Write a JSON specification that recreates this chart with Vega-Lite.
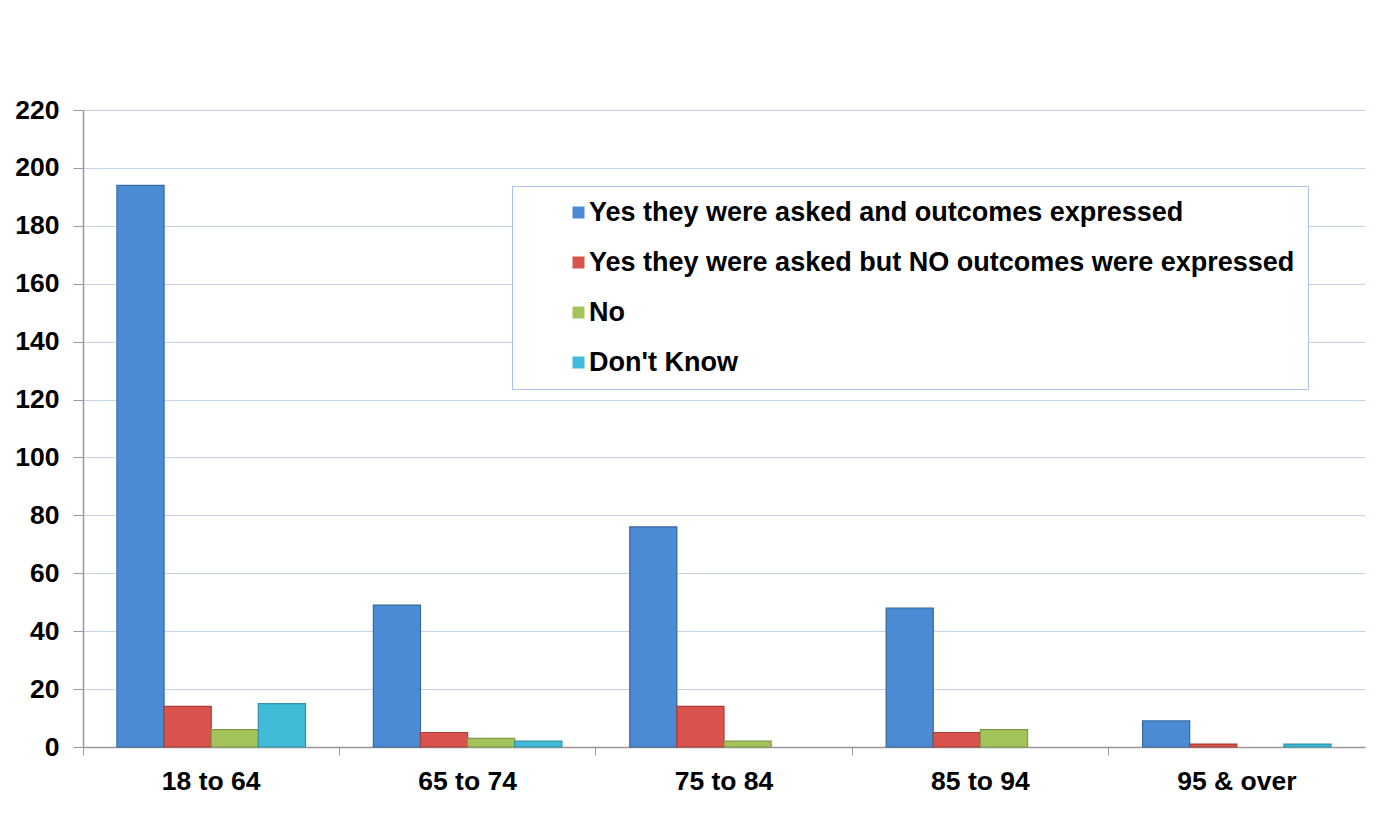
{
  "$schema": "https://vega.github.io/schema/vega-lite/v6.json",
  "width": 1282,
  "height": 637,
  "autosize": {"type": "none"},
  "padding": {"left": 83, "top": 110, "right": 11, "bottom": 86},
  "background": "white",
  "data": {
    "values": [
      {"age": "18 to 64", "series": "Yes they were asked and outcomes expressed", "value": 194},
      {"age": "18 to 64", "series": "Yes they were asked but NO outcomes were expressed", "value": 14},
      {"age": "18 to 64", "series": "No", "value": 6},
      {"age": "18 to 64", "series": "Don't Know", "value": 15},
      {"age": "65 to 74", "series": "Yes they were asked and outcomes expressed", "value": 49},
      {"age": "65 to 74", "series": "Yes they were asked but NO outcomes were expressed", "value": 5},
      {"age": "65 to 74", "series": "No", "value": 3},
      {"age": "65 to 74", "series": "Don't Know", "value": 2},
      {"age": "75 to 84", "series": "Yes they were asked and outcomes expressed", "value": 76},
      {"age": "75 to 84", "series": "Yes they were asked but NO outcomes were expressed", "value": 14},
      {"age": "75 to 84", "series": "No", "value": 2},
      {"age": "85 to 94", "series": "Yes they were asked and outcomes expressed", "value": 48},
      {"age": "85 to 94", "series": "Yes they were asked but NO outcomes were expressed", "value": 5},
      {"age": "85 to 94", "series": "No", "value": 6},
      {"age": "95 & over", "series": "Yes they were asked and outcomes expressed", "value": 9},
      {"age": "95 & over", "series": "Yes they were asked but NO outcomes were expressed", "value": 1},
      {"age": "95 & over", "series": "Don't Know", "value": 1}
    ]
  },
  "mark": {"type": "bar", "strokeWidth": 1.2},
  "encoding": {
    "x": {
      "field": "age",
      "type": "nominal",
      "sort": ["18 to 64", "65 to 74", "75 to 84", "85 to 94", "95 & over"],
      "scale": {"paddingInner": 0, "paddingOuter": 0},
      "axis": {
        "title": null,
        "bandPosition": 0,
        "labelAngle": 0,
        "labelFont": "Liberation Sans",
        "labelFontWeight": "bold",
        "labelFontSize": 26.5,
        "labelColor": "#000000",
        "labelPadding": 13,
        "tickSize": 8,
        "tickColor": "#999999",
        "domainColor": "#999999",
        "domainWidth": 1.5,
        "grid": false
      }
    },
    "xOffset": {
      "field": "series",
      "type": "nominal",
      "sort": ["Yes they were asked and outcomes expressed", "Yes they were asked but NO outcomes were expressed", "No", "Don't Know"],
      "scale": {"paddingInner": 0, "paddingOuter": 0.72}
    },
    "y": {
      "field": "value",
      "type": "quantitative",
      "scale": {"domain": [0, 220], "nice": false},
      "axis": {
        "title": null,
        "values": [0, 20, 40, 60, 80, 100, 120, 140, 160, 180, 200, 220],
        "labelFont": "Liberation Sans",
        "labelFontWeight": "bold",
        "labelFontSize": 26.5,
        "labelColor": "#000000",
        "labelPadding": 14,
        "tickSize": 10,
        "tickColor": "#999999",
        "domainColor": "#999999",
        "domainWidth": 1.5,
        "gridColor": "#c3d4ec",
        "gridWidth": 1
      }
    },
    "color": {
      "field": "series",
      "type": "nominal",
      "sort": ["Yes they were asked and outcomes expressed", "Yes they were asked but NO outcomes were expressed", "No", "Don't Know"],
      "scale": {"range": ["#4a8bd3", "#d8534b", "#a3c45a", "#40bcd8"]},
      "legend": {
        "title": null,
        "orient": "none",
        "legendX": 429,
        "legendY": 76,
        "padding": 13,
        "strokeColor": "#a9c4e8",
        "fillColor": "white",
        "symbolType": "square",
        "symbolSize": 144,
        "symbolStrokeWidth": 0,
        "symbolOffset": 40,
        "labelOffset": -3,
        "labelFont": "Liberation Sans",
        "labelFontWeight": "bold",
        "labelFontSize": 27,
        "labelColor": "#000000",
        "labelLimit": 1000,
        "rowPadding": 22
      }
    },
    "stroke": {
      "field": "series",
      "type": "nominal",
      "sort": ["Yes they were asked and outcomes expressed", "Yes they were asked but NO outcomes were expressed", "No", "Don't Know"],
      "scale": {"range": ["#35699f", "#a93d37", "#7f9a42", "#2f93aa"]},
      "legend": null
    }
  },
  "config": {
    "view": {"stroke": null}
  }
}
